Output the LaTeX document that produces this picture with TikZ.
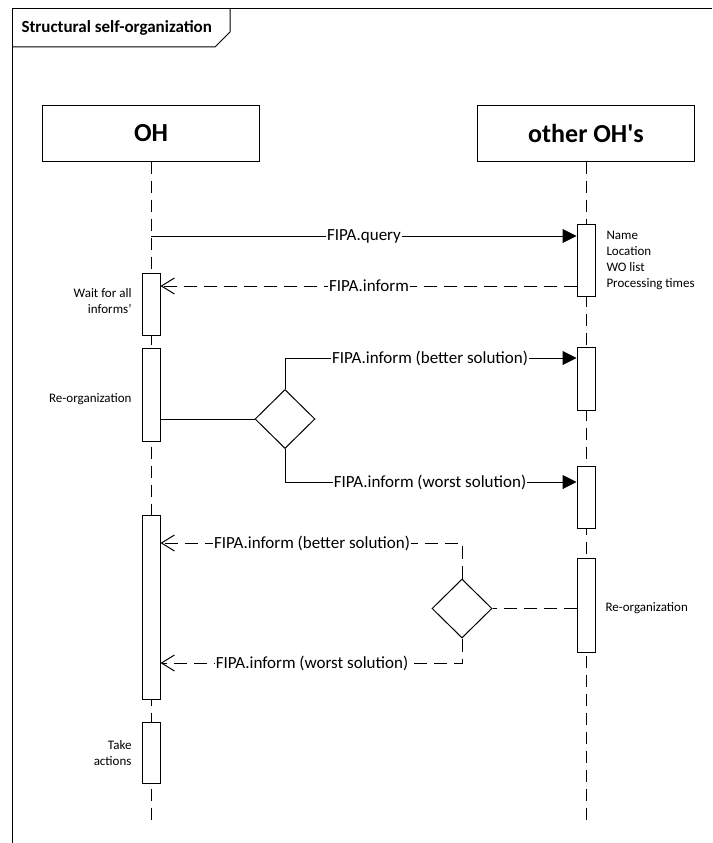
\documentclass[tikz,border=0pt]{standalone}
\usepackage{fontspec}
\setmainfont{Carlito}
\usetikzlibrary{arrows.meta,shapes.geometric}
\begin{document}
\begin{tikzpicture}[x=1pt,y=-1pt,line width=1pt,
  hdr/.style={draw, fill=white, minimum width=217pt, minimum height=56pt, inner sep=0pt, font=\bfseries\fontsize{26}{30}\selectfont},
  act/.style={draw, fill=white, minimum width=18pt, inner sep=0pt, anchor=north},
  lifeline/.style={dash pattern=on 12pt off 7pt},
  reply/.style={dash pattern=on 13pt off 7pt},
  msgtxt/.style={fill=white, inner sep=1pt, font=\fontsize{17}{20}\selectfont},
  note/.style={font=\fontsize{13}{16}\selectfont, inner sep=0pt},
  syncarrow/.style={-{Triangle[length=14pt,width=14pt]}},
  openarrow/.style={-{Straight Barb[length=13pt,width=16pt]}},
  decision/.style={draw, fill=white, diamond, minimum width=60pt, minimum height=59pt, inner sep=0pt}
]
\useasboundingbox (0,0) rectangle (712,843);
% frame
\draw (712,9) -- (12,9) -- (12,843);
\draw (12,47) -- (215,47) -- (230,32) -- (230,9);
\node[anchor=west, font=\bfseries\fontsize{17}{20}\selectfont, inner sep=0pt] (title) at (21,28) {Structural self-organization};
% headers and lifelines
\node[hdr] (oh) at (151,133) {OH};
\node[hdr] (ooh) at (586,133) {other OH\textquotesingle s};
\coordinate (ohend) at (151,823);
\coordinate (oohend) at (586,823);
\draw[lifeline] (oh.south) -- (ohend);
\draw[lifeline] (ooh.south) -- (oohend);
% activations
\node[act, minimum height=62pt] (a1) at (151,273) {};
\node[act, minimum height=93pt] (a2) at (151,348) {};
\node[act, minimum height=184pt] (a3) at (151,515) {};
\node[act, minimum height=61pt] (a4) at (151,722) {};
\node[act, minimum height=72pt] (b1) at (586,224) {};
\node[act, minimum height=63pt] (b2) at (586,347) {};
\node[act, minimum height=62pt] (b3) at (586,466) {};
\node[act, minimum height=94pt] (b4) at (586,558) {};
% query / inform
\coordinate (q0) at (151,236);
\draw[syncarrow] (q0) -- (q0 -| b1.west);
\node[msgtxt] (mq) at (364,236) {FIPA.query};
\draw[reply,openarrow] (b1.west |- 0,286) -- (a1.east |- 0,286);
\node[msgtxt] (mi) at (369,286) {FIPA.inform};
% decision 1
\node[decision] (d1) at (285,419) {};
\draw (a2.east |- d1.west) -- (d1.west);
\draw[syncarrow] (d1.north) |- (b2.west |- 0,358);
\node[msgtxt] (m1) at (430,358) {FIPA.inform (better solution)};
\draw[syncarrow] (d1.south) |- (b3.west |- 0,482);
\node[msgtxt] (m2) at (430,482) {FIPA.inform (worst solution)};
% decision 2
\node[decision] (d2) at (462,608.5) {};
\draw[reply] (b4.west |- d2.east) -- (d2.east);
\draw[reply,openarrow] (d2.north) |- (a3.east |- 0,543);
\node[msgtxt] (m3) at (312,543) {FIPA.inform (better solution)};
\draw[reply,openarrow] (d2.south) |- (a3.east |- 0,663);
\node[msgtxt] (m4) at (312,663) {FIPA.inform (worst solution)};
% notes
\node[note, anchor=east, align=right] (n1) at (132,301) {Wait for all\\informs’};
\node[note, anchor=east] (n2) at (132,399) {Re-organization};
\node[note, anchor=east, align=right] (n3) at (132,753) {Take\\actions};
\node[note, anchor=west, align=left] (n4) at (606,260) {Name\\Location\\WO list\\Processing times};
\node[note, anchor=west] (n5) at (605,608) {Re-organization};
\end{tikzpicture}
\end{document}
